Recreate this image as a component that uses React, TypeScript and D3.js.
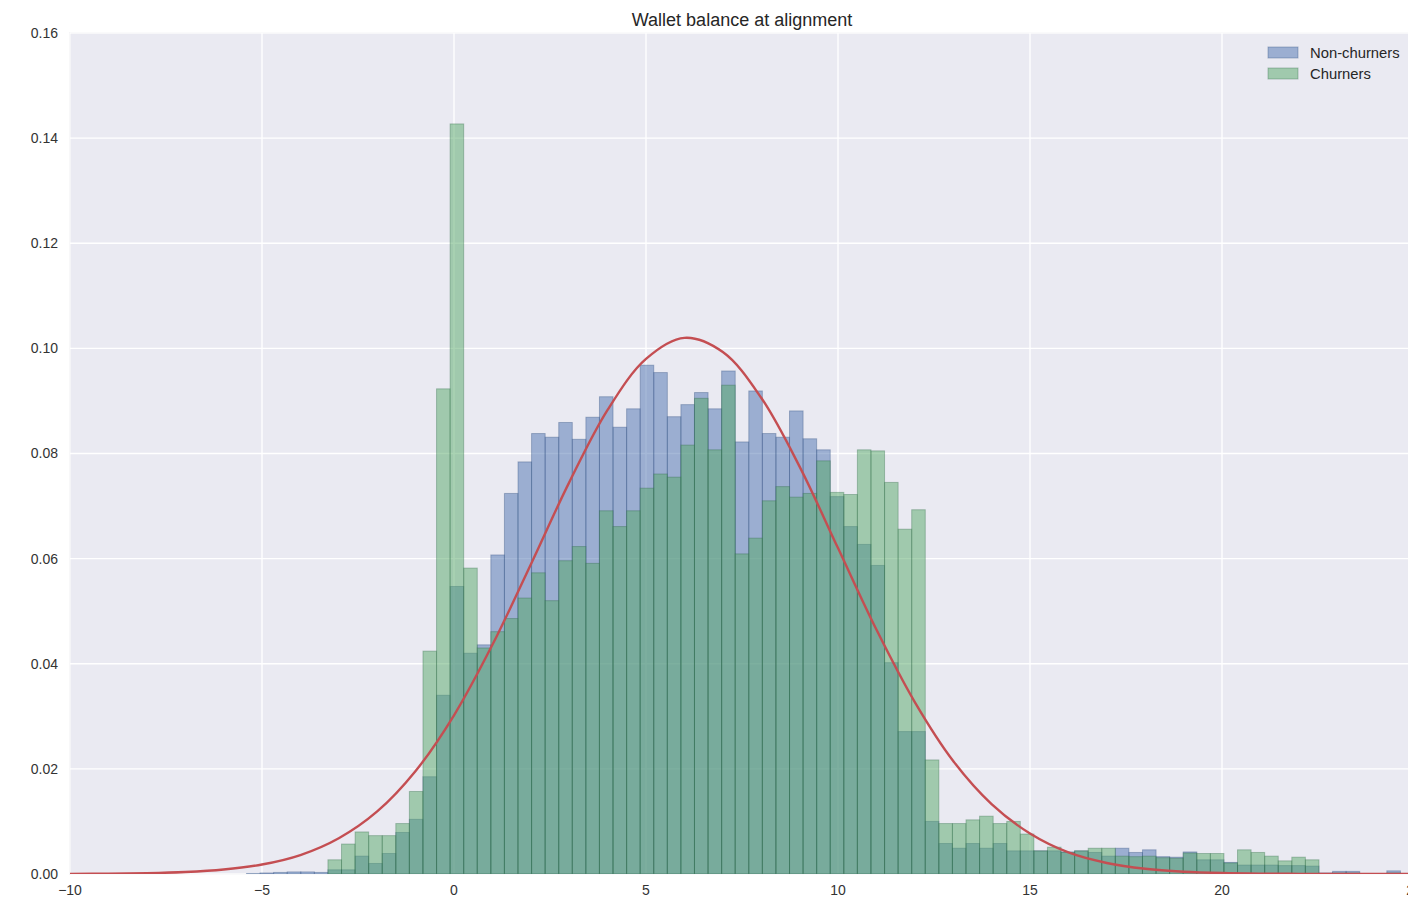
import { useEffect, useRef } from 'react';
import * as d3 from 'd3';

// histogram bins: 99 equal bins from -10 to 25
const binStart = -10;
const binEnd = 25;
const binCount = 99;

const seriesNames = ['Non-churners', 'Churners'];

// normalised bin heights (bin 0 .. bin 98)
const nonChurners = [
  0, 0, 0, 0, 0, 0, 0, 0, 0, 0,
  0, 0, 0, 0.0001, 0.0002, 0.0003, 0.0004, 0.0004, 0.0003, 0.0008,
  0.0008, 0.0034, 0.0020, 0.0039, 0.0079, 0.0104, 0.0185, 0.0340, 0.0547, 0.0420,
  0.0436, 0.0607, 0.0724, 0.0784, 0.0838, 0.0831, 0.0859, 0.0827, 0.0869, 0.0908,
  0.0850, 0.0885, 0.0968, 0.0954, 0.0870, 0.0893, 0.0916, 0.0885, 0.0957, 0.0822,
  0.0919, 0.0838, 0.0831, 0.0881, 0.0828, 0.0807, 0.0718, 0.0661, 0.0627, 0.0587,
  0.0402, 0.0271, 0.0271, 0.0100, 0.0058, 0.0049, 0.0058, 0.0049, 0.0058, 0.0044,
  0.0044, 0.0044, 0.0044, 0.0042, 0.0044, 0.0041, 0.0034, 0.0049, 0.0041, 0.0046,
  0.0033, 0.0032, 0.0042, 0.0027, 0.0027, 0.0022, 0.0017, 0.0017, 0.0017, 0.0016,
  0.0016, 0.0015, 0.0002, 0.0005, 0.0005, 0.0001, 0, 0.0006, 0.0001,
];

const churners = [
  0, 0, 0, 0, 0, 0, 0, 0, 0, 0,
  0, 0, 0, 0, 0, 0, 0, 0, 0, 0.0027,
  0.0057, 0.0080, 0.0073, 0.0073, 0.0096, 0.0157, 0.0424, 0.0923, 0.1427, 0.0582,
  0.0430, 0.0461, 0.0486, 0.0525, 0.0573, 0.0520, 0.0596, 0.0623, 0.0591, 0.0691,
  0.0661, 0.0691, 0.0734, 0.0761, 0.0755, 0.0816, 0.0905, 0.0807, 0.0930, 0.0609,
  0.0639, 0.0710, 0.0737, 0.0717, 0.0724, 0.0786, 0.0726, 0.0722, 0.0807, 0.0805,
  0.0745, 0.0656, 0.0693, 0.0217, 0.0096, 0.0096, 0.0103, 0.0110, 0.0096, 0.0100,
  0.0076, 0.0044, 0.0051, 0.0041, 0.0044, 0.0049, 0.0049, 0.0034, 0.0033, 0.0034,
  0.0031, 0.0030, 0.0040, 0.0039, 0.0039, 0.0021, 0.0046, 0.0041, 0.0034, 0.0025,
  0.0032, 0.0027, 0, 0.0002, 0.0002, 0, 0, 0.0002, 0,
];

// fitted curve (red), sampled at whole x values
const fitX = [
  -10, -9, -8, -7, -6, -5, -4, -3, -2, -1, 0, 1, 2, 3, 4, 5, 6, 7,
  8, 9, 10, 11, 12, 13, 14, 15, 16, 17, 18, 19, 20, 21, 22, 23, 24, 25,
];
const fitY = [
  0.00002, 0.00006, 0.00015, 0.00037, 0.00085, 0.0018, 0.0036, 0.0068, 0.0119, 0.0196,
  0.0302, 0.0436, 0.0589, 0.0745, 0.0883, 0.0980, 0.1020, 0.0993, 0.0906, 0.0775,
  0.0620, 0.0465, 0.0327, 0.0215, 0.0133, 0.0077, 0.0041, 0.0021, 0.0010, 0.00044,
  0.00018, 0.00007, 0.00003, 0.00001, 0, 0,
];

const xTicks = [-10, -5, 0, 5, 10, 15, 20, 25];
const yTicks = [0, 0.02, 0.04, 0.06, 0.08, 0.10, 0.12, 0.14, 0.16];

const BLUE = '#4C72B0';
const GREEN = '#55A868';
const RED = '#C44E52';

const App = () => {
  const svgRef = useRef(null);

  useEffect(() => {
    const width = 1408;
    const height = 900;
    const left = 70, top = 33, right = 1414, bottom = 874;

    const svg = d3.select(svgRef.current);
    svg.selectAll('*').remove();
    svg.attr('width', width).attr('height', height);

    const x = d3.scaleLinear().domain([-10, 25]).range([left, right]);
    const y = d3.scaleLinear().domain([0, 0.16]).range([bottom, top]);

    const edges = d3.range(binCount + 1).map(i => binStart + i * (binEnd - binStart) / binCount);

    svg.append('defs').append('clipPath').attr('id', 'plot-clip')
      .append('rect')
      .attr('x', left).attr('y', top)
      .attr('width', right - left).attr('height', bottom - top);

    // background
    svg.append('rect')
      .attr('x', left).attr('y', top)
      .attr('width', right - left).attr('height', bottom - top)
      .attr('fill', '#EAEAF2')
      .attr('stroke', '#d6d6de')
      .attr('stroke-width', 1);

    // grid
    const grid = svg.append('g');
    grid.selectAll('line.gx')
      .data(xTicks)
      .enter().append('line')
      .attr('x1', d => x(d)).attr('x2', d => x(d))
      .attr('y1', top).attr('y2', bottom)
      .attr('stroke', '#fff').attr('stroke-width', 1.3);
    grid.selectAll('line.gy')
      .data(yTicks)
      .enter().append('line')
      .attr('x1', left).attr('x2', right)
      .attr('y1', d => y(d)).attr('y2', d => y(d))
      .attr('stroke', '#fff').attr('stroke-width', 1.3);

    const plot = svg.append('g').attr('clip-path', 'url(#plot-clip)');

    const drawHist = (values, color, stroke) => {
      plot.append('g')
        .selectAll('rect')
        .data(values.map((v, i) => ({ v, x0: edges[i], x1: edges[i + 1] })).filter(d => d.v > 0))
        .enter().append('rect')
        .attr('x', d => x(d.x0))
        .attr('width', d => x(d.x1) - x(d.x0))
        .attr('y', d => y(d.v))
        .attr('height', d => y(0) - y(d.v))
        .attr('fill', color)
        .attr('fill-opacity', 0.5)
        .attr('stroke', stroke)
        .attr('stroke-opacity', 0.35)
        .attr('stroke-width', 1);
    };
    drawHist(nonChurners, BLUE, '#2c4a7a');
    drawHist(churners, GREEN, '#2f6a45');

    // fitted curve
    const line = d3.line()
      .x((d, i) => x(fitX[i]))
      .y(d => y(d))
      .curve(d3.curveCatmullRom);
    plot.append('path')
      .attr('d', line(fitY))
      .attr('fill', 'none')
      .attr('stroke', RED)
      .attr('stroke-width', 2.4);

    // tick labels
    const fmtX = d => (d < 0 ? '\u2212' + Math.abs(d) : String(d));
    svg.append('g').selectAll('text')
      .data(xTicks)
      .enter().append('text')
      .attr('x', d => x(d))
      .attr('y', bottom + 21)
      .attr('text-anchor', 'middle')
      .attr('font-family', 'Liberation Sans, Arial, sans-serif')
      .attr('font-size', 14)
      .attr('fill', '#333')
      .text(fmtX);

    svg.append('g').selectAll('text')
      .data(yTicks)
      .enter().append('text')
      .attr('x', left - 12)
      .attr('y', d => y(d))
      .attr('dy', '0.35em')
      .attr('text-anchor', 'end')
      .attr('font-family', 'Liberation Sans, Arial, sans-serif')
      .attr('font-size', 14)
      .attr('fill', '#333')
      .text(d => d3.format('.2f')(d));

    // title
    svg.append('text')
      .attr('x', (left + right) / 2)
      .attr('y', 26)
      .attr('text-anchor', 'middle')
      .attr('font-family', 'Liberation Sans, Arial, sans-serif')
      .attr('font-size', 18)
      .attr('fill', '#262626')
      .text('Wallet balance at alignment');

    // legend
    const legend = svg.append('g').attr('transform', 'translate(1268,47)');
    const items = legend.selectAll('g')
      .data(seriesNames)
      .enter().append('g')
      .attr('transform', (d, i) => `translate(0,${i * 21})`);
    items.append('rect')
      .attr('width', 30).attr('height', 11)
      .attr('fill', (d, i) => (i === 0 ? BLUE : GREEN))
      .attr('fill-opacity', 0.5)
      .attr('stroke', (d, i) => (i === 0 ? '#2c4a7a' : '#2f6a45'))
      .attr('stroke-opacity', 0.35);
    items.append('text')
      .attr('x', 42)
      .attr('y', 6)
      .attr('dy', '0.35em')
      .attr('font-family', 'Liberation Sans, Arial, sans-serif')
      .attr('font-size', 14.8)
      .attr('fill', '#262626')
      .text(d => d);
  }, []);

  return (
    <div style={{ position: 'absolute', left: 0, top: 0 }}>
      <svg ref={svgRef} style={{ display: 'block' }}></svg>
    </div>
  );
};

export default App;
